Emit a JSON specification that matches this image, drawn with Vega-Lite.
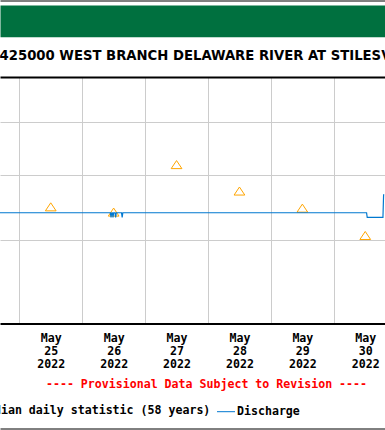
{
  "$schema": "https://vega.github.io/schema/vega-lite/v6.json",
  "width": 385,
  "height": 246.5,
  "autosize": {"type": "none"},
  "padding": {"left": 0, "top": 77, "right": 0, "bottom": 106.5},
  "background": "white",
  "config": {"view": {"stroke": null}, "axis": {"labelFlush": false, "labelOverlap": false}},
  "datasets": {
    "discharge": [
      {"time": "2022-05-24T12:00:00", "cfs": 439, "series": "Discharge"},
      {"time": "2022-05-26T10:45:00", "cfs": 439, "series": "Discharge"},
      {"time": "2022-05-26T11:00:00", "cfs": 432, "series": "Discharge"},
      {"time": "2022-05-26T11:15:00", "cfs": 439, "series": "Discharge"},
      {"time": "2022-05-26T11:30:00", "cfs": 439, "series": "Discharge"},
      {"time": "2022-05-26T11:45:00", "cfs": 432, "series": "Discharge"},
      {"time": "2022-05-26T12:00:00", "cfs": 439, "series": "Discharge"},
      {"time": "2022-05-26T12:30:00", "cfs": 439, "series": "Discharge"},
      {"time": "2022-05-26T12:45:00", "cfs": 432, "series": "Discharge"},
      {"time": "2022-05-26T13:00:00", "cfs": 439, "series": "Discharge"},
      {"time": "2022-05-26T15:00:00", "cfs": 439, "series": "Discharge"},
      {"time": "2022-05-26T15:15:00", "cfs": 432, "series": "Discharge"},
      {"time": "2022-05-26T15:30:00", "cfs": 439, "series": "Discharge"},
      {"time": "2022-05-30T12:30:00", "cfs": 439, "series": "Discharge"},
      {"time": "2022-05-30T12:45:00", "cfs": 432, "series": "Discharge"},
      {"time": "2022-05-30T18:45:00", "cfs": 432, "series": "Discharge"},
      {"time": "2022-05-30T19:00:00", "cfs": 467, "series": "Discharge"},
      {"time": "2022-05-30T19:15:00", "cfs": 467, "series": "Discharge"}
    ],
    "median": [
      {"time": "2022-05-25T12:00:00", "cfs": 448, "series": "Median daily statistic (58 years)"},
      {"time": "2022-05-26T12:00:00", "cfs": 440, "series": "Median daily statistic (58 years)"},
      {"time": "2022-05-27T12:00:00", "cfs": 518, "series": "Median daily statistic (58 years)"},
      {"time": "2022-05-28T12:00:00", "cfs": 473, "series": "Median daily statistic (58 years)"},
      {"time": "2022-05-29T12:00:00", "cfs": 446, "series": "Median daily statistic (58 years)"},
      {"time": "2022-05-30T12:00:00", "cfs": 406, "series": "Median daily statistic (58 years)"}
    ]
  },
  "resolve": {"scale": {"x": "shared", "y": "shared", "color": "shared"}, "axis": {"x": "independent"}},
  "layer": [
    {
      "data": {"name": "median"},
      "mark": {"type": "rule", "opacity": 0},
      "encoding": {
        "x": {"field": "time", "type": "temporal",
          "scale": {"domain": [{"year": 2022, "month": "may", "date": 24, "hours": 16, "minutes": 38, "seconds": 11}, {"year": 2022, "month": "may", "date": 30, "hours": 19, "minutes": 32, "seconds": 10}]},
          "axis": {"orient": "top", "offset": 56.15, "domain": true, "domainColor": "#00703F", "domainWidth": 31.7, "labels": false, "ticks": false, "grid": false, "title": null}}
      }
    },
    {
      "data": {"name": "median"},
      "mark": {"type": "rule", "opacity": 0},
      "encoding": {
        "x": {"field": "time", "type": "temporal",
          "axis": {"orient": "top", "offset": 76.5, "domain": true, "domainColor": "black", "domainWidth": 1, "labels": false, "ticks": false, "grid": false, "title": null}}
      }
    },
    {
      "data": {"name": "median"},
      "mark": {"type": "rule", "opacity": 0},
      "encoding": {
        "x": {"field": "time", "type": "temporal",
          "axis": {"orient": "bottom", "offset": 105, "domain": true, "domainColor": "black", "domainWidth": 1, "labels": false, "ticks": false, "grid": false, "title": null}}
      }
    },
    {
      "data": {"name": "median"},
      "mark": {"type": "point", "shape": "M0,-0.75L1,0.75L-1,0.75Z", "size": 115, "filled": false, "strokeWidth": 1, "opacity": 1, "clip": true},
      "encoding": {
        "x": {"field": "time", "type": "temporal",
          "axis": {"orient": "top", "values": [
              {"year": 2022, "month": "may", "date": 25},
              {"year": 2022, "month": "may", "date": 26},
              {"year": 2022, "month": "may", "date": 27},
              {"year": 2022, "month": "may", "date": 28},
              {"year": 2022, "month": "may", "date": 29},
              {"year": 2022, "month": "may", "date": 30}],
            "grid": true, "gridColor": "#cccccc", "gridWidth": 1, "labels": false, "ticks": false,
            "domain": true, "domainColor": "black", "domainWidth": 2,
            "title": "USGS 01425000 WEST BRANCH DELAWARE RIVER AT STILESVILLE NY",
            "titleFont": "DejaVu Sans Condensed", "titleFontWeight": "bold", "titleFontSize": 14.7, "titleColor": "black",
            "titleX": -64.5, "titleY": -17.3, "titleAlign": "left", "titleBaseline": "alphabetic"}},
        "y": {"field": "cfs", "type": "quantitative"},
        "color": {"field": "series", "type": "nominal"}
      }
    },
    {
      "data": {"name": "discharge"},
      "mark": {"type": "line", "strokeWidth": 1.2, "clip": true},
      "encoding": {
        "x": {"field": "time", "type": "temporal",
          "axis": {"orient": "bottom", "values": [
              {"year": 2022, "month": "may", "date": 25, "hours": 12},
              {"year": 2022, "month": "may", "date": 26, "hours": 12},
              {"year": 2022, "month": "may", "date": 27, "hours": 12},
              {"year": 2022, "month": "may", "date": 28, "hours": 12},
              {"year": 2022, "month": "may", "date": 29, "hours": 12},
              {"year": 2022, "month": "may", "date": 30, "hours": 12}],
            "labelExpr": "[timeFormat(datum.value, '%b'), timeFormat(datum.value, '%d'), timeFormat(datum.value, '%Y')]",
            "labelFont": "DejaVu Sans Mono", "labelFontWeight": "bold", "labelFontSize": 11.6, "labelColor": "black",
            "labelLineHeight": 13, "labelBaseline": "alphabetic", "labelPadding": 18.3, "labelAlign": "center",
            "ticks": false, "grid": false, "domain": true, "domainColor": "black", "domainWidth": 2,
            "title": "---- Provisional Data Subject to Revision ----",
            "titleFont": "DejaVu Sans Mono", "titleFontWeight": "bold", "titleFontSize": 11.6, "titleColor": "#FF0000",
            "titleX": 206, "titleY": 63.5, "titleAlign": "center", "titleBaseline": "alphabetic"}},
        "y": {"field": "cfs", "type": "quantitative",
          "scale": {"type": "log", "domain": [300, 700], "nice": false},
          "axis": {"values": [400, 500, 600], "grid": true, "gridColor": "#cccccc", "gridWidth": 1, "labels": false, "ticks": false, "domain": false, "title": null}},
        "color": {"field": "series", "type": "nominal",
          "scale": {"domain": ["Median daily statistic (58 years)", "Discharge"], "range": ["#FFA500", "#0078D0"]},
          "legend": {"orient": "none", "legendX": -37, "legendY": 328, "direction": "horizontal", "title": null,
            "labelFont": "DejaVu Sans Mono", "labelFontWeight": "bold", "labelFontSize": 11.6, "labelColor": "black",
            "labelLimit": 0, "labelOffset": 5, "columnPadding": 4,
            "symbolSize": 324, "symbolStrokeWidth": 1, "symbolFillColor": "transparent",
            "encode": {"symbols": {"update": {
              "shape": {"signal": "datum.value === 'Discharge' ? 'stroke' : 'M0,-0.75L1,0.75L-1,0.75Z'"},
              "size": {"signal": "datum.value === 'Discharge' ? 324 : 115"},
              "fill": {"value": "transparent"},
              "strokeWidth": {"value": 1}}}}}}
      }
    }
  ]
}
